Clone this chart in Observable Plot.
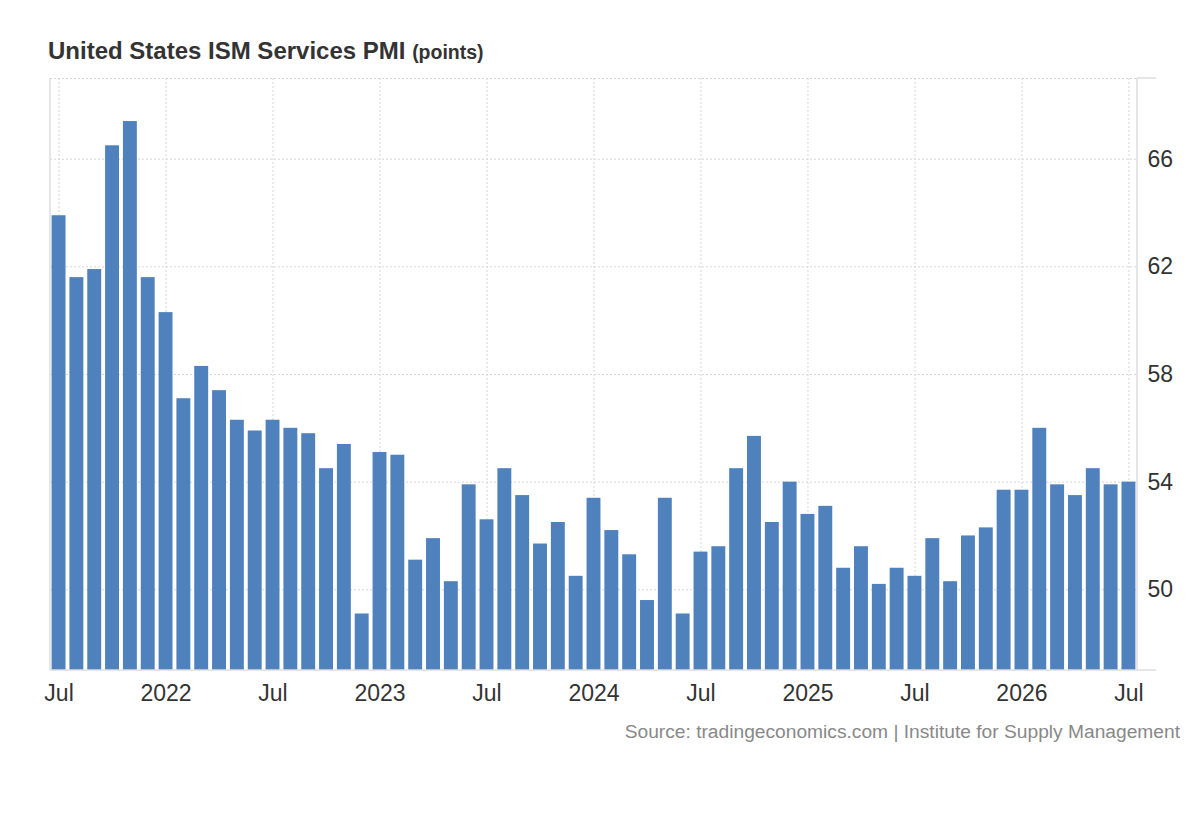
<!DOCTYPE html>
<html>
<head>
<meta charset="utf-8">
<script src="https://cdn.jsdelivr.net/npm/d3@7"></script>
<script src="https://cdn.jsdelivr.net/npm/@observablehq/plot@0.6"></script>
<style>
  body { margin: 0; background: #fff; font-family: "Liberation Sans", Arial, Helvetica, sans-serif; }
  #title { box-sizing: border-box; height: 70px; padding: 38px 0 0 48px; font-size: 24px; line-height: 26px; font-weight: bold; color: #333; }
  #title span { font-size: 19.5px; }
  #source { text-align: right; padding: 6px 20px 0 0; font-size: 19.2px; line-height: 22px; color: #888; }
</style>
</head>
<body>
<div id="title">United States ISM Services PMI <span>(points)</span></div>
<div id="chart"></div>
<div id="source">Source: tradingeconomics.com | Institute for Supply Management</div>
<script>
const months = [
  "2021-07","2021-08","2021-09","2021-10","2021-11","2021-12",
  "2022-01","2022-02","2022-03","2022-04","2022-05","2022-06","2022-07","2022-08","2022-09","2022-10","2022-11","2022-12",
  "2023-01","2023-02","2023-03","2023-04","2023-05","2023-06","2023-07","2023-08","2023-09","2023-10","2023-11","2023-12",
  "2024-01","2024-02","2024-03","2024-04","2024-05","2024-06","2024-07","2024-08","2024-09","2024-10","2024-11","2024-12",
  "2025-01","2025-02","2025-03","2025-04","2025-05","2025-06","2025-07","2025-08","2025-09","2025-10","2025-11","2025-12",
  "2026-01","2026-02","2026-03","2026-04","2026-05","2026-06","2026-07"
];
const values = [
  63.9, 61.6, 61.9, 66.5, 67.4, 61.6,
  60.3, 57.1, 58.3, 57.4, 56.3, 55.9, 56.3, 56.0, 55.8, 54.5, 55.4, 49.1,
  55.1, 55.0, 51.1, 51.9, 50.3, 53.9, 52.6, 54.5, 53.5, 51.7, 52.5, 50.5,
  53.4, 52.2, 51.3, 49.6, 53.4, 49.1, 51.4, 51.6, 54.5, 55.7, 52.5, 54.0,
  52.8, 53.1, 50.8, 51.6, 50.2, 50.8, 50.5, 51.9, 50.3, 52.0, 52.3, 53.7,
  53.7, 56.0, 53.9, 53.5, 54.5, 53.9, 54.0
];
const xTicks = ["2021-07","2022-01","2022-07","2023-01","2023-07","2024-01","2024-07","2025-01","2025-07","2026-01","2026-07"];
const yTicks = [50, 54, 58, 62, 66];
const yDomain = [47, 69];

const data = months.map((m, i) => ({month: m, value: values[i]}));
const fmt = d => d.endsWith("-07") ? "Jul" : d.slice(0, 4);
const gridStyle = {stroke: "#d6d6d6", strokeOpacity: 1, strokeDasharray: "2,2"};

const frameLines = (index, scales, vals, dims) => {
  const g = d3.create("svg:g").attr("stroke", "#dedede").attr("stroke-width", 1.5).attr("fill", "none");
  const left = dims.marginLeft, right = dims.width - dims.marginRight;
  const top = scales.y(yDomain[1]), bottom = scales.y(yDomain[0]);
  g.append("line").attr("x1", left).attr("x2", left).attr("y1", top).attr("y2", bottom);
  g.append("line").attr("x1", right).attr("x2", right).attr("y1", top).attr("y2", bottom);
  g.append("line").attr("x1", right).attr("x2", right + 19).attr("y1", top).attr("y2", top);
  g.append("line").attr("x1", left).attr("x2", right + 19).attr("y1", bottom).attr("y2", bottom);
  return g.node();
};

const chart = Plot.plot({
  width: 1200,
  height: 645,
  marginTop: 8,
  marginBottom: 45,
  marginLeft: 50,
  marginRight: 63,
  style: {fontFamily: "'Liberation Sans', Arial, Helvetica, sans-serif", fontSize: "23px", color: "#333", background: "#fff"},
  x: {type: "band", domain: months, paddingInner: 0.22, paddingOuter: 0.09},
  y: {domain: yDomain},
  marks: [
    Plot.gridX(xTicks, gridStyle),
    Plot.gridY(yTicks, gridStyle),
    Plot.ruleY([yDomain[1]], gridStyle),
    Plot.barY(data, {x: "month", y1: yDomain[0], y2: "value", fill: "#4f81bd"}),
    frameLines,
    Plot.axisX(xTicks, {tickSize: 0, tickPadding: 14, tickFormat: fmt, label: null, fontSize: 23}),
    Plot.axisY(yTicks, {anchor: "right", tickSize: 0, tickPadding: 10, label: null, fontSize: 23})
  ]
});
document.getElementById("chart").appendChild(chart);
</script>
</body>
</html>
